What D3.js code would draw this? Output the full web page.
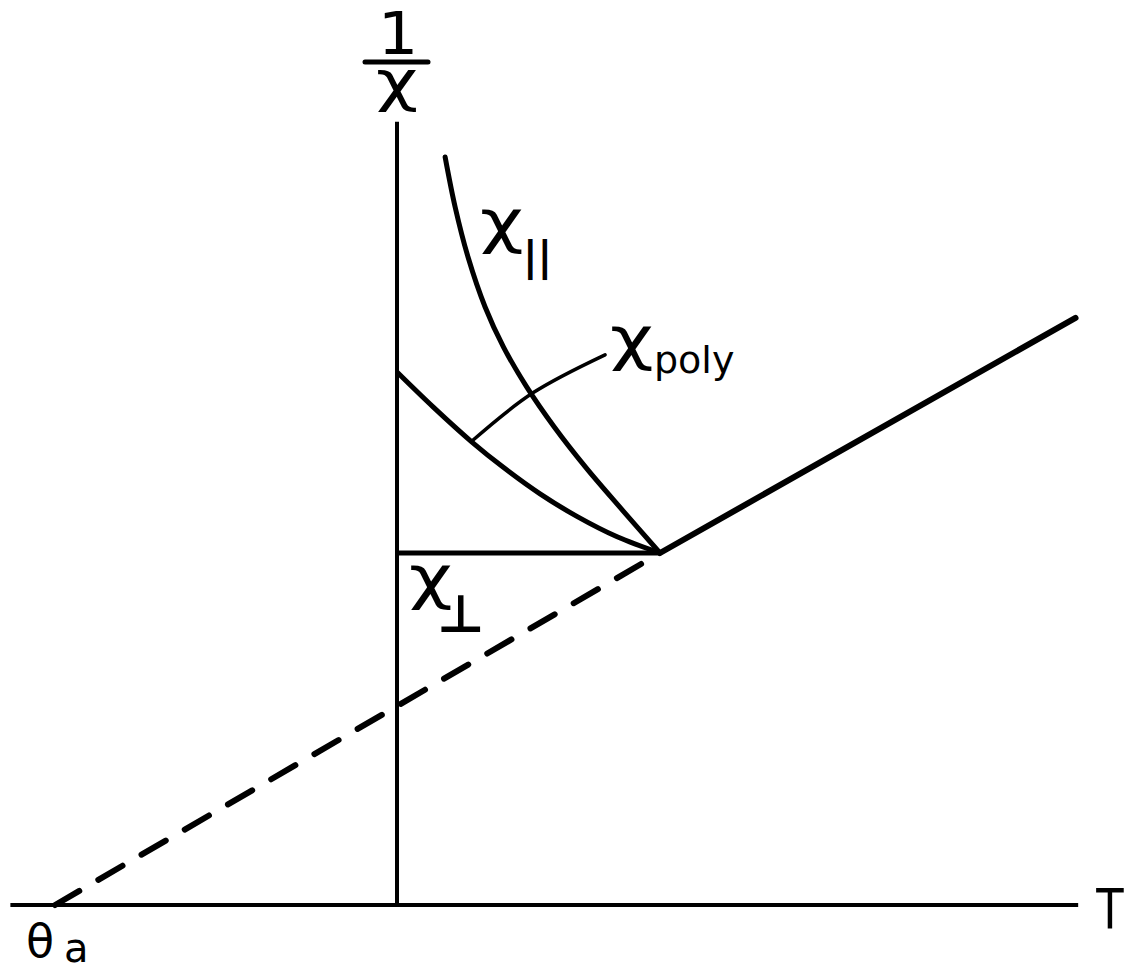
<!DOCTYPE html>
<html>
<head>
<meta charset="utf-8">
<script src="https://cdn.jsdelivr.net/npm/d3@7"></script>
<style>
  html, body { margin: 0; padding: 0; background: #fff; }
  svg { display: block; }
  text { font-family: "DejaVu Sans", sans-serif; fill: #000; }
</style>
</head>
<body>
<svg id="chart" width="1133" height="972"></svg>
<script>
// Reduced temperature T / T_N and reduced inverse susceptibility (1/χ at T_N = 1)
const axisTRange = [-1.47, 2.59];      // extent of the T axis
const axisInvChiTop = 2.225;           // top of the 1/χ axis
const thetaA = -1.30;                  // asymptotic Curie temperature θa

// Curie–Weiss branch above T_N
const paraT = [1.0, 2.58];
const paraV = [1.0, 1.668];

// Extrapolation of the paramagnetic line down to θa
const extrapT = [thetaA, 1.0];
const extrapV = [0.0, 1.0];

// χ⊥ : constant below T_N
const perpT = [0.0, 1.0];
const perpV = [1.0, 1.0];

// χ∥ : rises steeply as T → 0
const parT = [0.183, 0.221, 0.270, 0.335, 0.405, 0.493, 0.598, 0.717, 0.857, 1.0];
const parV = [2.125, 1.983, 1.841, 1.699, 1.585, 1.472, 1.358, 1.244, 1.122, 1.0];

// χpoly : powder average
const polyT = [0.0, 0.137, 0.285, 0.403, 0.544, 0.684, 0.837, 1.0];
const polyV = [1.514, 1.415, 1.315, 1.244, 1.168, 1.104, 1.046, 1.0];

// Leader line from the χpoly label to its curve
const leaderT = [0.285, 0.517, 0.791];
const leaderV = [1.318, 1.455, 1.563];

const svg = d3.select("#chart");

const x = d3.scaleLinear().domain([0, 1]).range([397, 660]);
const y = d3.scaleLinear().domain([0, 1]).range([905, 553]);

const zip = (ts, vs) => ts.map((t, i) => ({ T: t, v: vs[i] }));
const line = d3.line().x(d => x(d.T)).y(d => y(d.v));
const smooth = d3.line().x(d => x(d.T)).y(d => y(d.v)).curve(d3.curveCatmullRom.alpha(0.5));

// Axes
svg.append("line")
  .attr("x1", x(axisTRange[0])).attr("x2", x(axisTRange[1]))
  .attr("y1", y(0)).attr("y2", y(0))
  .attr("stroke", "#000").attr("stroke-width", 4);
svg.append("line")
  .attr("x1", x(0)).attr("x2", x(0))
  .attr("y1", y(0)).attr("y2", y(axisInvChiTop))
  .attr("stroke", "#000").attr("stroke-width", 4);

// Dashed extrapolation to θa
svg.append("path")
  .attr("d", line(zip(extrapT, extrapV)))
  .attr("fill", "none").attr("stroke", "#000")
  .attr("stroke-width", 6).attr("stroke-linecap", "round")
  .attr("stroke-dasharray", "28,22");

// Paramagnetic line
svg.append("path")
  .attr("d", line(zip(paraT, paraV)))
  .attr("fill", "none").attr("stroke", "#000")
  .attr("stroke-width", 6).attr("stroke-linecap", "round");

// χ⊥
svg.append("path")
  .attr("d", line(zip(perpT, perpV)))
  .attr("fill", "none").attr("stroke", "#000").attr("stroke-width", 5);

// χpoly
svg.append("path")
  .attr("d", smooth(zip(polyT, polyV)))
  .attr("fill", "none").attr("stroke", "#000").attr("stroke-width", 5);

// χ∥
svg.append("path")
  .attr("d", smooth(zip(parT, parV)))
  .attr("fill", "none").attr("stroke", "#000").attr("stroke-width", 5)
  .attr("stroke-linecap", "round");

// Leader for χpoly
svg.append("path")
  .attr("d", d3.line().x(d => x(d.T)).y(d => y(d.v)).curve(d3.curveNatural)(zip(leaderT, leaderV)))
  .attr("fill", "none").attr("stroke", "#000").attr("stroke-width", 3.5)
  .attr("stroke-linecap", "round");

// Text helper: anchor at (px, py), optional horizontal stretch
function label(px, py, str, size, opts = {}) {
  const sx = opts.sx || 1;
  return svg.append("text")
    .attr("transform", `translate(${px},${py}) scale(${sx},1)`)
    .attr("text-anchor", opts.anchor || "start")
    .attr("font-size", size)
    .attr("font-weight", opts.weight || "normal")
    .text(str);
}

// Axis title 1/χ
const ax = x(0);
label(ax + 1, 54, "1", 58, { anchor: "middle", sx: 1.1 });
svg.append("line").attr("x1", ax - 32).attr("x2", ax + 31).attr("y1", 62).attr("y2", 62)
  .attr("stroke", "#000").attr("stroke-width", 5).attr("stroke-linecap", "round");
label(ax, 100, "χ", 56, { anchor: "middle", sx: 1.3 });

// T label
label(1110, 928, "T", 56, { anchor: "middle", sx: 0.8 });

// θa label
label(26, 957, "θ", 46);
label(64, 962, "a", 40);

// χ∥ label
label(480, 242, "χ", 58, { sx: 1.3 });
label(523, 270, "||", 40, { weight: "bold" });

// χpoly label
label(610, 359, "χ", 58, { sx: 1.3 });
label(654, 373, "poly", 38);

// χ⊥ label
label(409, 598, "χ", 58, { sx: 1.3 });
label(437, 632, "⊥", 52, { weight: "bold" });
</script>
</body>
</html>
